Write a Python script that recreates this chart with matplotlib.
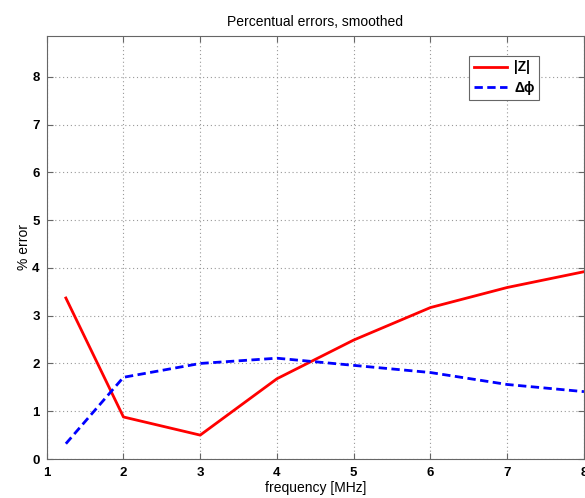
import matplotlib
matplotlib.use('Agg')
import matplotlib.pyplot as plt

plt.rcParams['font.family'] = ['Liberation Sans', 'DejaVu Sans']

freq = [1.25, 2, 3, 4, 5, 6, 7, 8]
err_z = [3.37, 0.88, 0.50, 1.68, 2.49, 3.17, 3.59, 3.92]
err_phi = [0.32, 1.71, 2.00, 2.11, 1.96, 1.81, 1.56, 1.41]

fig = plt.figure(figsize=(5.85, 4.98), dpi=100)
ax = fig.add_axes([0.0798, 0.0783, 0.9184, 0.8500])

ax.plot(freq, err_z, '-', color='#ff0000', lw=2, label='|Z|')
ax.plot(freq, err_phi, '--', color='#0000ff', lw=2, dashes=(3, 1.6), label='Δϕ')

ax.set_xlim(1, 8)
ax.set_ylim(0, 8.86)
ax.set_xticks(range(1, 9))
ax.set_yticks(range(0, 9))
ax.grid(True, linestyle=(0, (1, 2.5)), color='#999999', lw=0.8)
ax.tick_params(direction='in', top=True, right=True, length=4, color='#666666',
               labelsize=9.5)
ax.tick_params(axis='x', pad=6)
ax.tick_params(axis='y', pad=5)
for lab in ax.get_xticklabels() + ax.get_yticklabels():
    lab.set_fontweight('bold')
for sp in ax.spines.values():
    sp.set_color('#666666')

ax.set_title('Percentual errors, smoothed', fontsize=10, pad=7)
ax.set_xlabel('frequency [MHz]', fontsize=10, labelpad=1)
ax.set_ylabel('% error', fontsize=10, labelpad=1)

leg = ax.legend(loc='upper left', bbox_to_anchor=(0.786, 0.953), fancybox=False,
                edgecolor='#666666', framealpha=1, fontsize=10, handlelength=2.4,
                borderpad=0.35, labelspacing=0.45, handletextpad=0.5,
                borderaxespad=0)
for t in leg.get_texts():
    t.set_fontweight('bold')
leg.get_frame().set_linewidth(0.8)

fig.savefig('out.png', dpi=100)
